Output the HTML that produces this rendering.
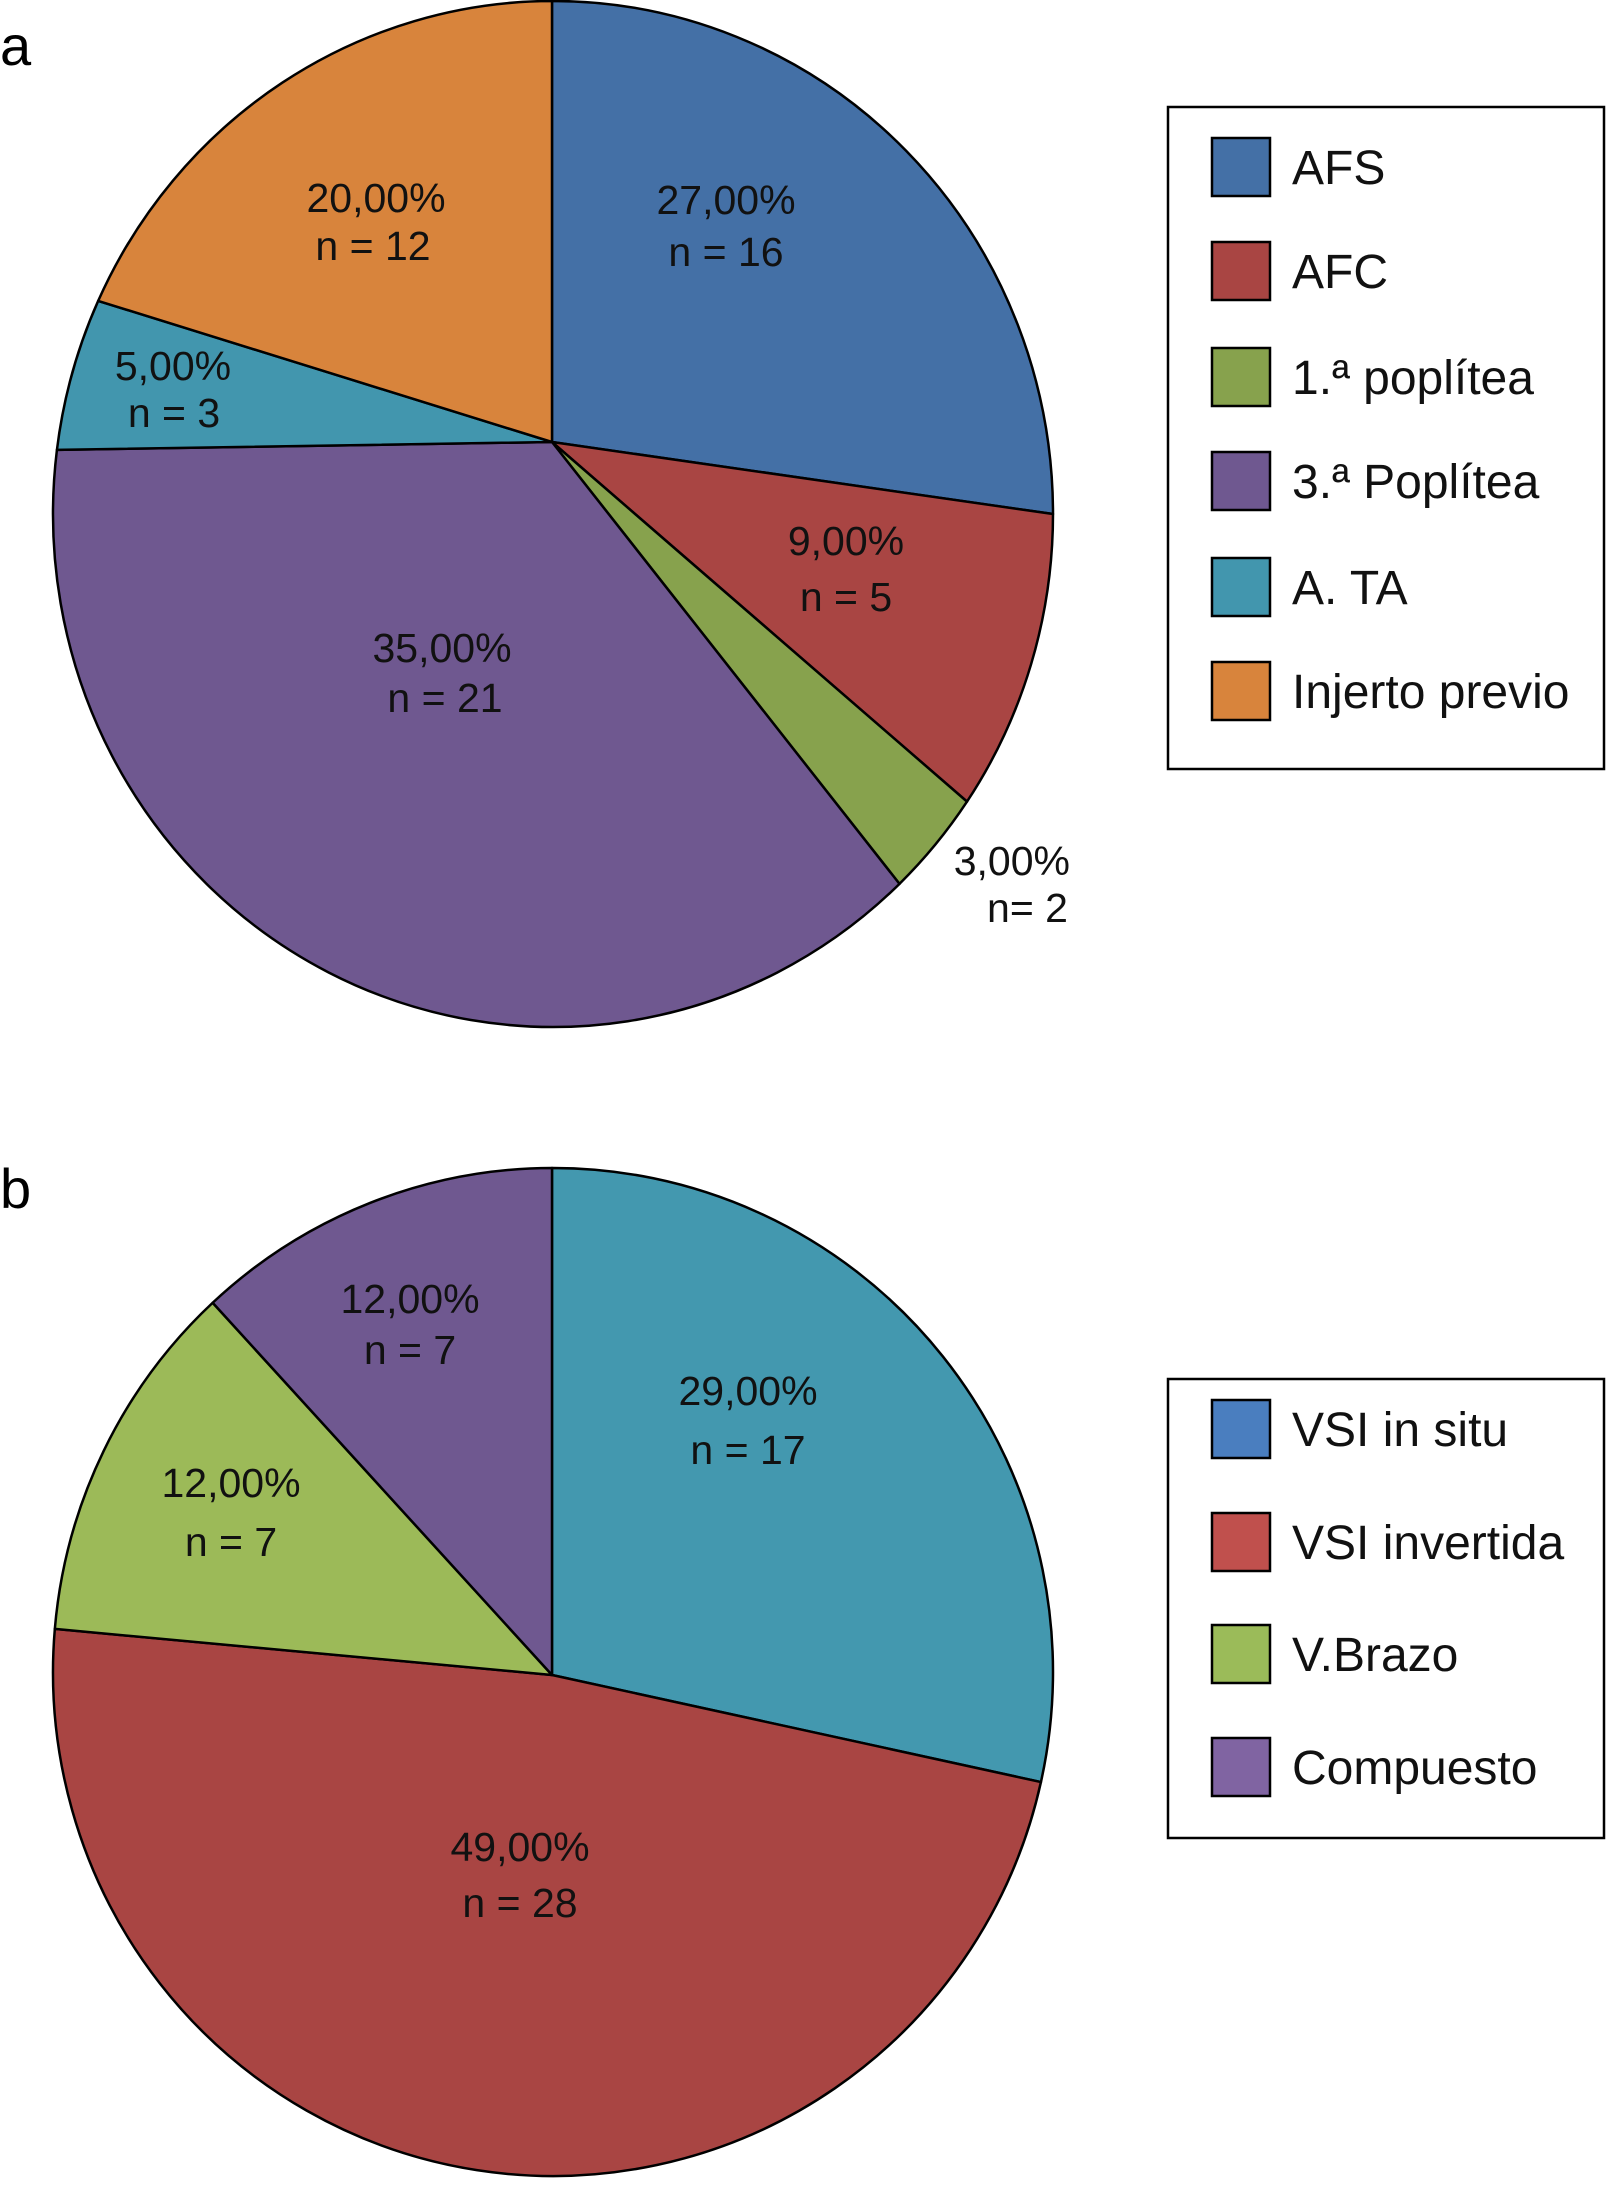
<!DOCTYPE html>
<html><head><meta charset="utf-8"><style>
html,body{margin:0;padding:0;background:#fff;}
svg{display:block;font-family:"Liberation Sans",Arial,sans-serif;}
</style></head><body>
<svg id="chart" width="1608" height="2185" viewBox="0 0 1608 2185">
<text x="0" y="65" font-size="56">a</text>
<text x="0" y="1208" font-size="56">b</text>
<g id="pieA"></g>
<g id="pieB"></g>
<g id="legA"></g>
<g id="legB"></g>
</svg>
<script>
const catsA = ["AFS","AFC","1.ª poplítea","3.ª Poplítea","A. TA","Injerto previo"];
const valsA = [27,9,3,35,5,20];
const pctA = ["27,00%","9,00%","3,00%","35,00%","5,00%","20,00%"];
const nLabA = ["n = 16","n = 5","n= 2","n = 21","n = 3","n = 12"];
const colA = ["#4470a6","#a94543","#87a24d","#6f5890","#4296ae","#d8843c"];
const legColA = ["#4470a6","#a94543","#87a24d","#6f5890","#4296ae","#d8843c"];

const catsB = ["VSI in situ","VSI invertida","V.Brazo","Compuesto"];
const valsB = [29,49,12,12];
const pctB = ["29,00%","49,00%","12,00%","12,00%"];
const nLabB = ["n = 17","n = 28","n = 7","n = 7"];
const colB = ["#4398af","#a94543","#9cba58","#6f5890"];
const legColB = ["#4a7ebf","#c0504d","#9bbb59","#8064a2"];

const NS="http://www.w3.org/2000/svg";
function mk(tag,attrs,parent){const e=document.createElementNS(NS,tag);for(const k in attrs)e.setAttribute(k,attrs[k]);parent.appendChild(e);return e;}

function pie(g,vals,cols,geo,pcts,nls,prefix){
  const tot=vals.reduce((a,b)=>a+b,0);
  // ray from apex at data angle, intersected with ellipse outline
  const pt=f=>{
    const a=f*2*Math.PI, dx=Math.sin(a), dy=-Math.cos(a);
    const ox=(geo.ax-geo.cx)/geo.rx, oy=(geo.ay-geo.cy)/geo.ry, ux=dx/geo.rx, uy=dy/geo.ry;
    const A=ux*ux+uy*uy, B=2*(ox*ux+oy*uy), C=ox*ox+oy*oy-1;
    const t=(-B+Math.sqrt(B*B-4*A*C))/(2*A);
    return [geo.ax+t*dx, geo.ay+t*dy];
  };
  const par=p=>{let a=Math.atan2((p[0]-geo.cx)/geo.rx,-(p[1]-geo.cy)/geo.ry);if(a<0)a+=2*Math.PI;return a;};
  let cum=0;
  vals.forEach((v,i)=>{
    const f0=cum/tot; cum+=v; const f1=cum/tot;
    const p0=pt(f0),p1=pt(f1);
    let a0=par(p0),a1=par(p1); if(f0===0)a0=0; if(f1>=0.9999)a1=2*Math.PI;
    let da=a1-a0; if(da<0)da+=2*Math.PI;
    const large=da>Math.PI?1:0;
    const d=`M${geo.ax},${geo.ay}L${p0[0]},${p0[1]}A${geo.rx},${geo.ry} 0 ${large} 1 ${p1[0]},${p1[1]}Z`;
    const p=mk("path",{d:d,fill:cols[i],stroke:"#000","stroke-width":2.5,"stroke-linejoin":"round"},g);
    
    
  });
  geo.labels.forEach((L,i)=>{
    const t1=mk("text",{x:L[0],y:L[1],"font-size":41,"text-anchor":L[4]||"middle",fill:"#111"},g);
    t1.textContent=pcts[i];
    
    
    const t2=mk("text",{x:L[2],y:L[3],"font-size":41,"text-anchor":L[4]||"middle",fill:"#111"},g);
    t2.textContent=nls[i];
    
    
  });
}
pie(document.getElementById("pieA"),valsA,colA,{cx:553,cy:514,rx:500,ry:513,ax:552,ay:442,
  labels:[[726,214,726,266],[846,555,846,611],[1070,875,1068,922,"end"],[442,662,445,712],[173,380,174,427],[376,212,373,260]]},pctA,nLabA,"pie-a");
pie(document.getElementById("pieB"),valsB,colB,{cx:553,cy:1672,rx:500,ry:504,ax:552,ay:1675,
  labels:[[748,1405,748,1464],[520,1861,520,1917],[231,1497,231,1556],[410,1313,410,1364]]},pctB,nLabB,"pie-b");

function legend(g,cats,cols,box,ys,prefix){
  const r=mk("rect",{x:box[0],y:box[1],width:box[2],height:box[3],fill:"#fff",stroke:"#000","stroke-width":2.5},g);
  
  
  cats.forEach((c,i)=>{
    const s=mk("rect",{x:1212,y:ys[i]-29,width:58,height:58,fill:cols[i],stroke:"#000","stroke-width":2.5},g);
    
    
    const t=mk("text",{x:1292,y:ys[i]+17,"font-size":48,fill:"#111"},g);
    t.textContent=c;
    
    
  });
}
legend(document.getElementById("legA"),catsA,legColA,[1168,107,436,662],[167,271,377,481,587,691],"legend-a");
legend(document.getElementById("legB"),catsB,legColB,[1168,1379,436,459],[1429,1542,1654,1767],"legend-b");
</script>
</body></html>
